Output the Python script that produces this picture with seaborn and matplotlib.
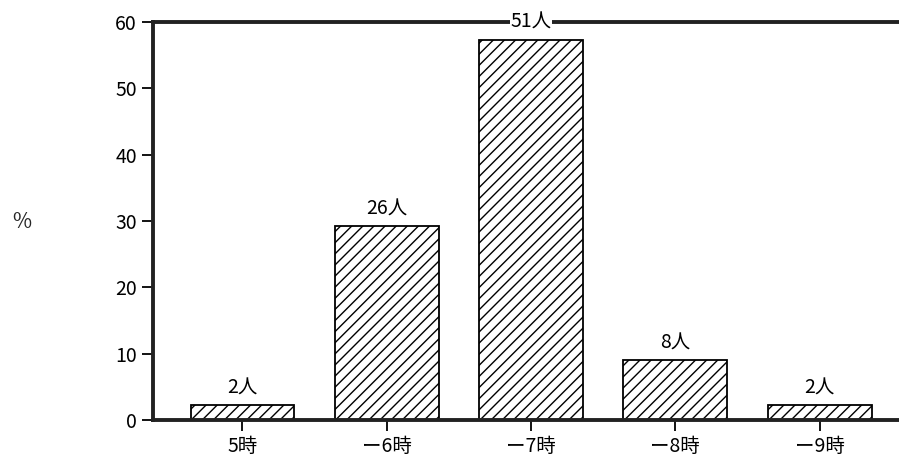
import matplotlib
matplotlib.use("Agg")
import matplotlib.pyplot as plt
import pandas as pd
import seaborn as sns

# wake-up time distribution (n = 89)
categories = ["5時", "ー6時", "ー7時", "ー8時", "ー9時"]
counts = [2, 26, 51, 8, 2]
total = sum(counts)
percents = [c / total * 100 for c in counts]
count_labels = [f"{c}人" for c in counts]
y_ticks = [0, 10, 20, 30, 40, 50, 60]

sns.set_style("white")
plt.rcParams["font.family"] = ["Noto Sans CJK JP", "DejaVu Sans"]
plt.rcParams["hatch.linewidth"] = 1.0

df = pd.DataFrame({"time": categories, "pct": percents})

fig = plt.figure(figsize=(8.99, 4.57), dpi=100)
ax = fig.add_axes([153 / 899, 37 / 457, 746 / 899, 398 / 457])

sns.barplot(data=df, x="time", y="pct", ax=ax, color="white",
            edgecolor="black", linewidth=1.3, hatch="///", width=0.72,
            saturation=1)

for bar, lab in zip(ax.patches, count_labels):
    ax.annotate(lab, (bar.get_x() + bar.get_width() / 2, bar.get_height()),
                xytext=(0, 5), textcoords="offset points",
                ha="center", va="bottom", fontsize=14, color="black",
                zorder=5, annotation_clip=False,
                bbox=dict(facecolor="white", edgecolor="none", pad=0.5))

ax.set_ylim(0, 60)
ax.set_xlim(-0.62, 4.55)
ax.set_yticks(y_ticks)
ax.set_xlabel("")
ax.set_ylabel("")
ax.tick_params(axis="both", direction="out", length=8, width=1.3,
               labelsize=14, colors="black", left=True, bottom=True)

for side in ["left", "bottom", "top"]:
    ax.spines[side].set_linewidth(2.8)
    ax.spines[side].set_color("#222222")
ax.spines["right"].set_visible(False)

fig.text(22 / 899, 1 - 222 / 457, "%", fontsize=15, ha="center", va="center")

fig.savefig("out.png", dpi=100)
